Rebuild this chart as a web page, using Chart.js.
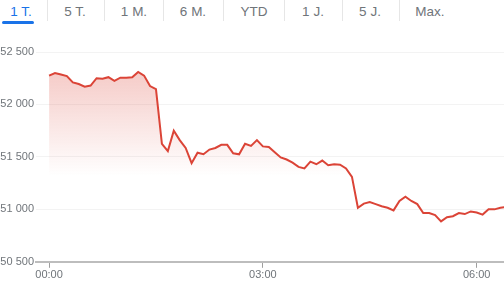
<!DOCTYPE html>
<html>
<head>
<meta charset="utf-8">
<script src="https://cdn.jsdelivr.net/npm/chart.js@4"></script>
<style>
    body { margin: 0; width: 504px; height: 287px; background: #fff; overflow: hidden; font-family: "Liberation Sans", Arial, sans-serif; position: relative; }
    .tab { position: absolute; top: 4px; font-size: 13.5px; color: #70757a; transform: translateX(-50%); white-space: nowrap; }
    .tab.active { color: #1a73e8; }
    .sep { position: absolute; top: 0; width: 1px; height: 21px; background: #e6e6e6; }
    #underline { position: absolute; left: 2px; top: 21px; width: 32px; height: 3px; border-radius: 2px; background: #1a73e8; }
    #wrap { position: absolute; left: 0; top: 30px; width: 504px; height: 257px; }
</style>
</head>
<body>
<div id="tabs"></div>
<div id="underline"></div>
<div id="wrap"><canvas id="myChart"></canvas></div>
<script>
const tabs = ["1 T.", "5 T.", "1 M.", "6 M.", "YTD", "1 J.", "5 J.", "Max."];
const tabCenters = [21, 75, 134, 193, 254, 313, 370, 430];
const separators = [47, 104, 163, 223, 284, 342, 399];

// index price, one point every 5 minutes from 00:00
const prices = [
    52275, 52300, 52285, 52270, 52210, 52195, 52170, 52180, 52250, 52245,
    52260, 52225, 52255, 52255, 52260, 52310, 52275, 52175, 52145, 51625,
    51555, 51750, 51660, 51585, 51440, 51540, 51525, 51570, 51585, 51615,
    51615, 51535, 51525, 51625, 51605, 51660, 51600, 51595, 51545, 51495,
    51475, 51445, 51405, 51390, 51455, 51430, 51465, 51420, 51430, 51425,
    51390, 51310, 51015, 51055, 51070, 51050, 51030, 51015, 50990, 51080,
    51120, 51080, 51050, 50965, 50965, 50945, 50885, 50925, 50935, 50965,
    50955, 50980, 50970, 50950, 51000, 51000, 51015, 51025
];
const minutes = prices.map((p, i) => i * 5);
const xTicks = [0, 180, 360];
const yTicks = [50500, 51000, 51500, 52000, 52500];

const tabBox = document.getElementById("tabs");
tabs.forEach((t, i) => {
    const el = document.createElement("div");
    el.className = "tab" + (i === 0 ? " active" : "");
    el.style.left = tabCenters[i] + "px";
    el.textContent = t;
    tabBox.appendChild(el);
});
separators.forEach(x => {
    const s = document.createElement("div");
    s.className = "sep";
    s.style.left = x + "px";
    tabBox.appendChild(s);
});

function fmtTime(m) {
    const h = Math.floor(m / 60);
    const mm = m % 60;
    return String(h).padStart(2, "0") + ":" + String(mm).padStart(2, "0");
}

const ctx = document.getElementById("myChart").getContext("2d");
const myChart = new Chart(ctx, {
    type: "line",
    data: {
        datasets: [{
            data: minutes.map((m, i) => ({ x: m, y: prices[i] })),
            borderColor: "#db4437",
            borderWidth: 2,
            pointRadius: 0,
            tension: 0,
            fill: { value: 51320 },
            backgroundColor: (c) => {
                const chart = c.chart;
                const area = chart.chartArea;
                if (!area) return "rgba(219,68,55,0.2)";
                const y0 = chart.scales.y.getPixelForValue(52320);
                const y1 = chart.scales.y.getPixelForValue(51320);
                const g = chart.ctx.createLinearGradient(0, y0, 0, y1);
                g.addColorStop(0, "rgba(219,68,55,0.28)");
                g.addColorStop(1, "rgba(219,68,55,0)");
                return g;
            }
        }]
    },
    options: {
        responsive: true,
        maintainAspectRatio: false,
        animation: false,
        layout: { padding: { top: 22, right: 0, bottom: 4, left: 0 } },
        plugins: { legend: { display: false }, tooltip: { enabled: false } },
        scales: {
            x: {
                type: "linear",
                min: -11,
                max: 383,
                afterBuildTicks: (s) => { s.ticks = xTicks.map(v => ({ value: v })); },
                grid: { drawOnChartArea: false, color: "#9e9e9e", tickLength: 6, tickWidth: 1 },
                border: { color: "#bdbdbd", width: 2 },
                ticks: {
                    color: "#70757a",
                    font: { family: "Liberation Sans", size: 11 },
                    padding: 1,
                    maxRotation: 0,
                    callback: (v) => fmtTime(v)
                }
            },
            y: {
                min: 50500,
                max: 52500,
                afterBuildTicks: (s) => { s.ticks = yTicks.map(v => ({ value: v })); },
                afterFit: (s) => { s.width = 36; },
                grid: { color: "#f3f3f3", drawTicks: false },
                border: { display: false },
                ticks: {
                    color: "#70757a",
                    font: { family: "Liberation Sans", size: 11 },
                    padding: 2,
                    callback: (v) => String(v).replace(/(\d{2})(\d{3})/, "$1 $2")
                }
            }
        }
    }
});
</script>
</body>
</html>
